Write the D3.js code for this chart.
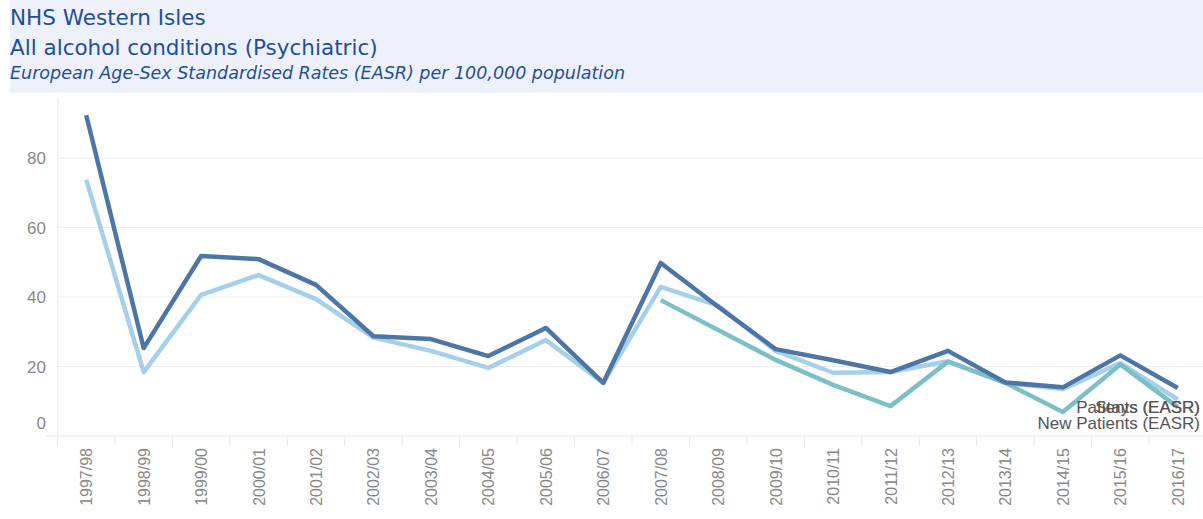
<!DOCTYPE html>
<html>
<head>
<meta charset="utf-8">
<script src="https://cdn.jsdelivr.net/npm/d3@7"></script>
<style>
  body { margin: 0; background: #fff; }
  svg { display: block; }
</style>
</head>
<body>
<div id="chart"></div>
<script>
// financial years along the x axis
var years = ["1997/98", "1998/99", "1999/00", "2000/01", "2001/02", "2002/03", "2003/04",
  "2004/05", "2005/06", "2006/07", "2007/08", "2008/09", "2009/10", "2010/11", "2011/12",
  "2012/13", "2013/14", "2014/15", "2015/16", "2016/17"];

var stays = [92.3, 25.3, 51.8, 50.9, 43.5, 28.7, 27.9, 23.0, 31.1, 15.3, 49.8, 37.2,
  25.0, 21.8, 18.4, 24.5, 15.4, 14.0, 23.2, 13.8];
var patients = [73.8, 18.4, 40.6, 46.3, 39.4, 28.3, 24.5, 19.6, 27.6, 15.3, 42.9, 37.5,
  24.5, 18.2, 18.4, 21.5, 15.3, 13.5, 21.0, 10.5];
var newPatients = [null, null, null, null, null, null, null, null, null, null, 39.1, 30.5,
  21.9, 14.7, 8.6, 21.4, 15.3, 6.9, 20.6, 8.3];

var yTicks = [0, 20, 40, 60, 80];

var series = [
  {name: "Patients (EASR)", values: patients, color: "#a6cfea"},
  {name: "New Patients (EASR)", values: newPatients, color: "#7cc0c6"},
  {name: "Stays (EASR)", values: stays, color: "#4e76a5"}
];

var W = 1203, H = 519;
var svg = d3.select("#chart").append("svg").attr("width", W).attr("height", H);

// title band
svg.append("rect").attr("x", 10).attr("y", 0).attr("width", W - 10).attr("height", 93)
  .attr("fill", "#eef1fb");
var tfont = "'DejaVu Sans', sans-serif";
svg.append("text").attr("x", 10).attr("y", 25).text("NHS Western Isles")
  .attr("font-family", tfont).attr("font-size", 21.5).attr("fill", "#1d4f9e");
svg.append("text").attr("x", 10).attr("y", 55).text("All alcohol conditions (Psychiatric)")
  .attr("font-family", tfont).attr("font-size", 21.5).attr("fill", "#1d4f9e");
svg.append("text").attr("x", 10).attr("y", 79)
  .text("European Age-Sex Standardised Rates (EASR) per 100,000 population")
  .attr("font-family", tfont).attr("font-size", 17.5).attr("font-style", "italic").attr("fill", "#1d4f9e");

var x = d3.scaleBand().domain(years).range([57.5, 57.5 + 57.45 * years.length]);
var y = d3.scaleLinear().domain([0, 20]).range([436, 366.5]);

var afont = "'Liberation Sans', Arial, sans-serif";

// gridlines
svg.append("g").selectAll("line").data(yTicks.slice(1)).enter().append("line")
  .attr("x1", 58).attr("x2", W).attr("y1", d => y(d)).attr("y2", d => y(d))
  .attr("stroke", "#ececec").attr("stroke-width", 1);

// axis lines
svg.append("line").attr("x1", 58).attr("x2", 58).attr("y1", 98).attr("y2", 436)
  .attr("stroke", "#e6e6e6");
svg.append("line").attr("x1", 45).attr("x2", W).attr("y1", 436).attr("y2", 436)
  .attr("stroke", "#e6e6e6");

// y labels
svg.append("g").selectAll("text").data(yTicks).enter().append("text")
  .attr("x", 46).attr("y", d => d === 0 ? 429 : y(d) + 6)
  .attr("text-anchor", "end").attr("font-family", afont).attr("font-size", 17)
  .attr("fill", "#888").text(d => d);

// x dividers and labels
svg.append("g").selectAll("line").data(years).enter().append("line")
  .attr("x1", d => x(d)).attr("x2", d => x(d)).attr("y1", 436).attr("y2", 446)
  .attr("stroke", "#e6e6e6");
svg.append("g").selectAll("text").data(years).enter().append("text")
  .attr("transform", d => "translate(" + (x(d) + x.bandwidth() / 2 + 6) + ",448) rotate(-90)")
  .attr("text-anchor", "end").attr("font-family", afont).attr("font-size", 16)
  .attr("fill", "#888").text(d => d);

// lines
var line = d3.line()
  .defined(d => d.v != null)
  .x(d => x(d.k) + x.bandwidth() / 2)
  .y(d => y(d.v));

series.forEach(function(s) {
  svg.append("path")
    .datum(years.map((k, i) => ({k: k, v: s.values[i]})))
    .attr("d", line).attr("fill", "none")
    .attr("stroke", s.color).attr("stroke-width", 4.5)
    .attr("stroke-linejoin", "round");
});

// end labels (overlapping as in the source)
var lx = 1200;
var lfont = "'Liberation Sans', Arial, sans-serif";
svg.append("text").attr("x", lx).attr("y", 413).attr("text-anchor", "end")
  .attr("font-family", lfont).attr("font-size", 17).attr("fill", "#555")
  .text("Patients (EASR)");
svg.append("text").attr("x", lx).attr("y", 413).attr("text-anchor", "end")
  .attr("font-family", lfont).attr("font-size", 17).attr("fill", "#555")
  .text("Stays (EASR)");
svg.append("text").attr("x", lx).attr("y", 429).attr("text-anchor", "end")
  .attr("font-family", lfont).attr("font-size", 17).attr("fill", "#555")
  .text("New Patients (EASR)");
</script>
</body>
</html>
